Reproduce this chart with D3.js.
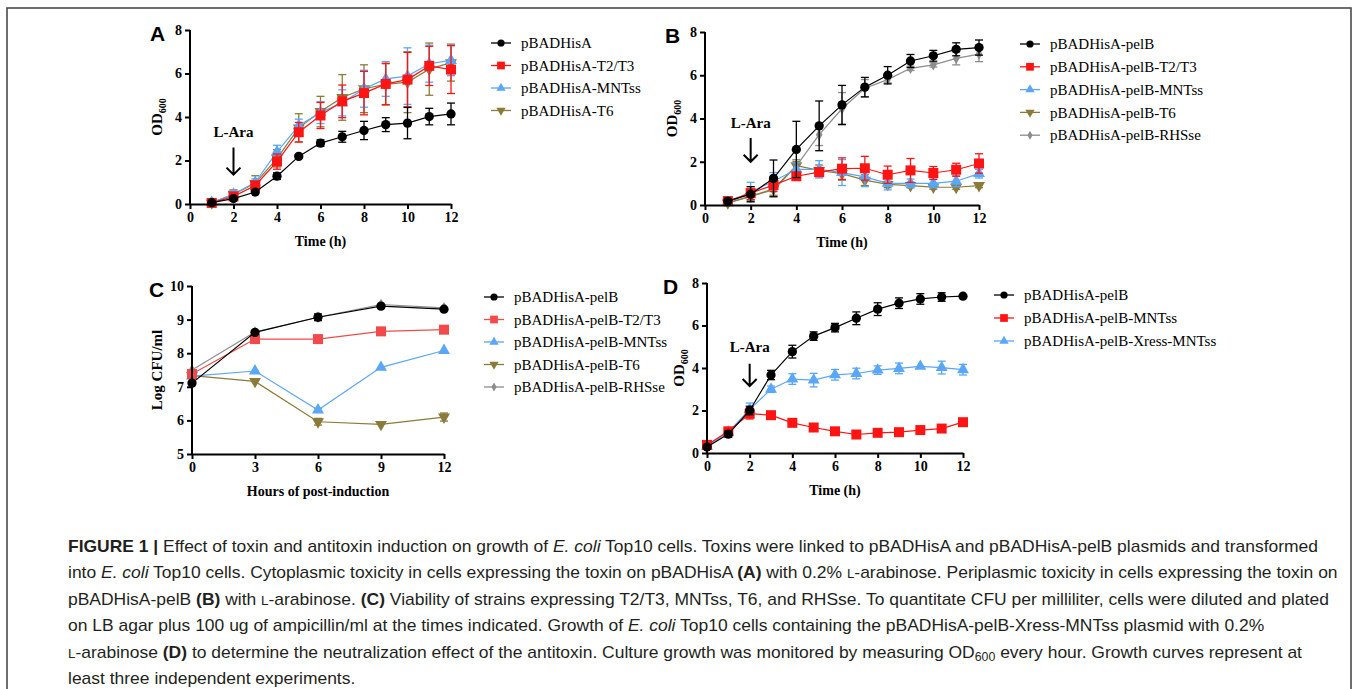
<!DOCTYPE html>
<html>
<head>
<meta charset="utf-8">
<script src="https://d3js.org/d3.v7.min.js"></script>
<style>
  body { margin: 0; background: #fff; }
  .serif { font-family: "Liberation Serif", "Times New Roman", serif; }
  .cap { font-family: "Liberation Sans", Arial, sans-serif; }
</style>
</head>
<body>
<svg id="fig" width="1358" height="689"></svg>
<script>
// ---- data -------------------------------------------------------------
const hours1to12 = [1, 2, 3, 4, 5, 6, 7, 8, 9, 10, 11, 12];
const hours0to12 = [0, 1, 2, 3, 4, 5, 6, 7, 8, 9, 10, 11, 12];
const hoursC = [0, 3, 6, 9, 12];

// panel A: OD600, cytoplasmic
const aNames = ["pBADHisA", "pBADHisA-T2/T3", "pBADHisA-MNTss", "pBADHisA-T6"];
const aCtrl = [0.06, 0.25, 0.55, 1.28, 2.19, 2.80, 3.09, 3.38, 3.65, 3.72, 4.02, 4.14];
const aCtrlErr = [0.03, 0.05, 0.06, 0.15, 0.08, 0.15, 0.25, 0.42, 0.32, 0.72, 0.38, 0.5];
const aT2T3 = [0.05, 0.35, 0.85, 1.95, 3.30, 4.07, 4.72, 5.10, 5.52, 5.72, 6.35, 6.18];
const aT2T3Err = [0.03, 0.1, 0.2, 0.35, 0.45, 0.6, 0.75, 1.0, 0.95, 1.25, 0.9, 1.1];
const aMNT = [0.07, 0.45, 1.0, 2.4, 3.6, 4.2, 4.65, 5.3, 5.75, 5.88, 6.45, 6.6];
const aMNTErr = [0.04, 0.15, 0.15, 0.3, 0.3, 0.5, 0.6, 0.85, 0.8, 1.3, 0.85, 0.7];
const aT6 = [0.05, 0.45, 0.95, 2.1, 3.5, 4.25, 4.9, 5.3, 5.5, 5.6, 6.2, 6.5];
const aT6Err = [0.04, 0.2, 0.35, 0.4, 0.65, 0.7, 1.05, 1.1, 0.95, 1.4, 1.2, 0.85];

// panel B: OD600, periplasmic
const bNames = ["pBADHisA-pelB", "pBADHisA-pelB-T2/T3", "pBADHisA-pelB-MNTss", "pBADHisA-pelB-T6", "pBADHisA-pelB-RHSse"];
const bCtrl = [0.18, 0.5, 1.23, 2.57, 3.66, 4.63, 5.45, 6.0, 6.66, 6.9, 7.2, 7.28];
const bCtrlErr = [0.05, 0.35, 0.85, 1.3, 1.15, 0.9, 0.45, 0.4, 0.3, 0.25, 0.3, 0.35];
const bT2T3 = [0.18, 0.55, 0.92, 1.33, 1.52, 1.68, 1.7, 1.4, 1.6, 1.48, 1.63, 1.92];
const bT2T3Err = [0.05, 0.3, 0.3, 0.15, 0.2, 0.5, 0.55, 0.4, 0.55, 0.3, 0.3, 0.45];
const bMNT = [0.1, 0.6, 1.1, 1.65, 1.65, 1.5, 1.3, 1.0, 1.0, 1.0, 1.1, 1.45];
const bMNTErr = [0.05, 0.45, 0.4, 0.3, 0.4, 0.6, 0.45, 0.3, 0.2, 0.2, 0.25, 0.2];
const bT6 = [0.1, 0.4, 0.75, 1.82, 1.6, 1.45, 1.15, 0.95, 0.9, 0.83, 0.82, 0.9];
const bT6Err = [0.04, 0.15, 0.3, 0.2, 0.25, 0.3, 0.25, 0.15, 0.1, 0.1, 0.1, 0.1];
const bRHS = [0.1, 0.4, 0.7, 1.8, 3.25, 4.45, 5.4, 5.8, 6.32, 6.48, 6.78, 6.98];
const bRHSErr = [0.04, 0.2, 0.3, 0.3, 0.5, 0.75, 0.4, 0.15, 0.1, 0.1, 0.3, 0.35];

// panel C: log CFU/ml
const cNames = bNames;
const cCtrl = [7.11, 8.62, 9.07, 9.40, 9.31];
const cCtrlErr = [0.03, 0.03, 0.1, 0.05, 0.04];
const cT2T3 = [7.38, 8.42, 8.42, 8.65, 8.70];
const cT2T3Err = [0.05, 0.03, 0.03, 0.03, 0.03];
const cMNT = [7.32, 7.47, 6.31, 7.58, 8.08];
const cMNTErr = [0.03, 0.03, 0.05, 0.03, 0.03];
const cT6 = [7.33, 7.16, 5.96, 5.88, 6.10];
const cT6Err = [0.03, 0.03, 0.1, 0.03, 0.12];
const cRHS = [7.5, 8.63, 9.07, 9.45, 9.35];
const cRHSErr = [0.03, 0.03, 0.03, 0.03, 0.03];

// panel D: OD600, antitoxin rescue
const dNames = ["pBADHisA-pelB", "pBADHisA-pelB-MNTss", "pBADHisA-pelB-Xress-MNTss"];
const dCtrl = [0.28, 0.89, 2.0, 3.67, 4.77, 5.5, 5.9, 6.34, 6.77, 7.05, 7.25, 7.34, 7.38];
const dCtrlErr = [0.08, 0.15, 0.2, 0.22, 0.3, 0.2, 0.2, 0.3, 0.3, 0.25, 0.25, 0.2, 0.05];
const dMNT = [0.38, 1.02, 1.85, 1.78, 1.42, 1.2, 1.02, 0.87, 0.95, 0.98, 1.08, 1.15, 1.45];
const dMNTErr = [0.05, 0.15, 0.25, 0.05, 0.05, 0.05, 0.05, 0.05, 0.05, 0.05, 0.05, 0.05, 0.05];
const dXress = [0.32, 0.98, 2.05, 3.0, 3.48, 3.43, 3.68, 3.74, 3.9, 3.98, 4.08, 4.02, 3.92];
const dXressErr = [0.05, 0.15, 0.3, 0.15, 0.25, 0.32, 0.25, 0.25, 0.2, 0.25, 0.05, 0.3, 0.25];

// ticks
const odTicks = [0, 2, 4, 6, 8];
const timeTicks = [0, 2, 4, 6, 8, 10, 12];
const cfuTicks = [5, 6, 7, 8, 9, 10];
const hourTicksC = [0, 3, 6, 9, 12];

// ---- styles ------------------------------------------------------------
const RED = "#ff1414", RED_C = "#f24a4a", BLUE = "#5aa6f7", OLIVE = "#8b7b3a", GRAY = "#8c8c8c";
const styles = [
  {color: "#000", shape: "circle"},
  {color: RED, shape: "square"},
  {color: BLUE, shape: "tri"},
  {color: OLIVE, shape: "triDown"},
  {color: GRAY, shape: "diamond"}
];

const svg = d3.select("#fig");

// outer frame of the figure
svg.append("rect").attr("x", 7).attr("y", 8).attr("width", 1344).attr("height", 720)
  .attr("fill", "none").attr("stroke", "#4a4a4a").attr("stroke-width", 1.6);

function markerPath(shape, k) {
  k = k || 1;
  if (shape == "circle") return d3.symbol(d3.symbolCircle, 68 * k)();
  if (shape == "square") return d3.symbol(d3.symbolSquare, 100 * k)();
  if (shape == "tri" || shape == "triDown") return d3.symbol(d3.symbolTriangle, 62 * k)();
  return d3.symbol(d3.symbolDiamond, 38 * k)();
}

function drawMarker(g, shape, color, cx, cy, k) {
  g.append("path")
    .attr("d", markerPath(shape, k))
    .attr("transform", "translate(" + cx + "," + cy + ")" + (shape == "triDown" ? " rotate(180)" : ""))
    .attr("fill", color);
}

function panel(p) {
  const g = svg.append("g");
  const x = d3.scaleLinear().domain(p.xDomain).range(p.xRange);
  const y = d3.scaleLinear().domain(p.yDomain).range(p.yRange);

  // series, first one on top
  for (let si = p.series.length - 1; si >= 0; si--) {
    const s = p.series[si];
    const st = Object.assign({}, styles[si], s.style || {});
    const pts = s.values.map((v, i) => ({x: p.xs[i], y: v, e: s.err[i]}));
    g.append("path").datum(pts)
      .attr("d", d3.line().x(d => x(d.x)).y(d => y(d.y)))
      .attr("fill", "none").attr("stroke", st.color).attr("stroke-width", 1.2);
    const eb = g.append("g").attr("stroke", st.color).attr("stroke-width", 1.3);
    pts.forEach(d => {
      const cx = x(d.x), y1 = y(d.y - d.e), y2 = y(d.y + d.e);
      if (y1 - y2 < 3) return;
      eb.append("line").attr("x1", cx).attr("x2", cx).attr("y1", y1).attr("y2", y2);
      eb.append("line").attr("x1", cx - 4).attr("x2", cx + 4).attr("y1", y1).attr("y2", y1);
      eb.append("line").attr("x1", cx - 4).attr("x2", cx + 4).attr("y1", y2).attr("y2", y2);
    });
    pts.forEach(d => drawMarker(g, st.shape, st.color, x(d.x), y(d.y)));
  }

  // axes
  const xa = g.append("g").attr("transform", "translate(0," + p.yRange[0] + ")")
    .call(d3.axisBottom(x).tickValues(p.xTicks).tickFormat(d3.format("d")).tickSize(5).tickSizeOuter(0).tickPadding(3));
  const ya = g.append("g").attr("transform", "translate(" + p.xRange[0] + ",0)")
    .call(d3.axisLeft(y).tickValues(p.yTicks).tickFormat(d3.format("d")).tickSize(5).tickSizeOuter(0).tickPadding(3));
  [xa, ya].forEach(a => {
    a.selectAll("path, line").attr("stroke", "#000").attr("stroke-width", 2);
    a.selectAll("text").attr("class", "serif").attr("font-family", null)
      .attr("font-size", 14).attr("font-weight", "bold").attr("fill", "#000");
  });
  ya.select(".domain").attr("d", "M0," + (p.yRange[0] + 1) + "V" + p.yRange[1]);

  // axis titles
  g.append("text").attr("class", "serif").attr("font-weight", "bold").attr("font-size", 14)
    .attr("x", (p.xRange[0] + p.xRange[1]) / 2).attr("y", p.yRange[0] + 42)
    .attr("text-anchor", "middle").text(p.xTitle);
  const yt = g.append("text").attr("class", "serif").attr("font-weight", "bold").attr("font-size", 15)
    .attr("text-anchor", "middle")
    .attr("transform", "translate(" + p.yTitleX + "," + (p.yRange[0] + p.yRange[1]) / 2 + ") rotate(-90)");
  if (p.yTitle == "OD600") {
    yt.append("tspan").text("OD");
    yt.append("tspan").attr("font-size", 10).attr("dy", 4).text("600");
  } else {
    yt.text(p.yTitle);
  }

  // panel letter
  g.append("text").attr("class", "cap").attr("font-weight", "bold").attr("font-size", 21)
    .attr("x", p.letterX).attr("y", p.yRange[1] + 11).text(p.letter);

  // L-Ara arrow
  if (p.arrow) {
    const ax = x(p.arrow.x), top = y(p.arrow.top), tip = y(p.arrow.tip);
    g.append("text").attr("class", "serif").attr("font-weight", "bold").attr("font-size", 15)
      .attr("x", ax).attr("y", y(p.arrow.label)).attr("dy", "0.35em")
      .attr("text-anchor", "middle").text("L-Ara");
    g.append("path")
      .attr("d", "M" + ax + "," + top + "V" + tip + "M" + (ax - 7) + "," + (tip - 7) + "L" + ax + "," + tip + "L" + (ax + 7) + "," + (tip - 7))
      .attr("fill", "none").attr("stroke", "#000").attr("stroke-width", 2);
  }

  // legend
  const lg = svg.append("g");
  p.series.forEach((s, i) => {
    const st = Object.assign({}, styles[i], s.style || {});
    const ly = p.legend.y + i * p.legend.dy;
    lg.append("line").attr("x1", p.legend.x).attr("x2", p.legend.x + 20).attr("y1", ly).attr("y2", ly)
      .attr("stroke", st.color).attr("stroke-width", 1.3);
    drawMarker(lg, st.shape, st.color, p.legend.x + 10, ly, 0.6);
    lg.append("text").attr("class", "serif").attr("font-size", 15)
      .attr("x", p.legend.x + 30).attr("y", ly).attr("dy", "0.35em").text(p.names[i]);
  });
}

panel({
  letter: "A", letterX: 150, xs: hours1to12, names: aNames,
  xDomain: [0, 12], xRange: [190, 451], yDomain: [0, 8], yRange: [204, 30],
  xTicks: timeTicks, yTicks: odTicks, xTitle: "Time (h)", yTitle: "OD600", yTitleX: 162,
  arrow: {x: 2, label: 3.3, top: 2.6, tip: 1.35},
  legend: {x: 491, y: 43, dy: 22.5},
  series: [
    {values: aCtrl, err: aCtrlErr},
    {values: aT2T3, err: aT2T3Err},
    {values: aMNT, err: aMNTErr},
    {values: aT6, err: aT6Err}
  ]
});

panel({
  letter: "B", letterX: 665, xs: hours1to12, names: bNames,
  xDomain: [0, 12], xRange: [705, 979], yDomain: [0, 8], yRange: [205, 32],
  xTicks: timeTicks, yTicks: odTicks, xTitle: "Time (h)", yTitle: "OD600", yTitleX: 677,
  arrow: {x: 2, label: 3.8, top: 3.1, tip: 2.0},
  legend: {x: 1020, y: 44, dy: 22.8},
  series: [
    {values: bCtrl, err: bCtrlErr},
    {values: bT2T3, err: bT2T3Err},
    {values: bMNT, err: bMNTErr},
    {values: bT6, err: bT6Err},
    {values: bRHS, err: bRHSErr}
  ]
});

panel({
  letter: "C", letterX: 149, xs: hoursC, names: cNames,
  xDomain: [0, 12], xRange: [192, 444], yDomain: [5, 10], yRange: [454, 286],
  xTicks: hourTicksC, yTicks: cfuTicks, xTitle: "Hours of post-induction", yTitle: "Log CFU/ml", yTitleX: 162,
  legend: {x: 484, y: 297, dy: 22.5},
  series: [
    {values: cCtrl, err: cCtrlErr},
    {values: cT2T3, err: cT2T3Err, style: {color: RED_C}},
    {values: cMNT, err: cMNTErr},
    {values: cT6, err: cT6Err},
    {values: cRHS, err: cRHSErr}
  ]
});

panel({
  letter: "D", letterX: 663, xs: hours0to12, names: dNames,
  xDomain: [0, 12], xRange: [707, 963], yDomain: [0, 8], yRange: [453, 283],
  xTicks: timeTicks, yTicks: odTicks, xTitle: "Time (h)", yTitle: "OD600", yTitleX: 684,
  arrow: {x: 2, label: 5.0, top: 4.2, tip: 3.15},
  legend: {x: 994, y: 295, dy: 23},
  series: [
    {values: dCtrl, err: dCtrlErr},
    {values: dMNT, err: dMNTErr},
    {values: dXress, err: dXressErr}
  ]
});

// ---- caption -------------------------------------------------------------
const captionLines = [
  [["FIGURE 1 | ", "b"], ["Effect of toxin and antitoxin induction on growth of ", ""], ["E. coli", "i"], [" Top10 cells. Toxins were linked to pBADHisA and pBADHisA-pelB plasmids and transformed", ""]],
  [["into ", ""], ["E. coli", "i"], [" Top10 cells. Cytoplasmic toxicity in cells expressing the toxin on pBADHisA ", ""], ["(A)", "b"], [" with 0.2% ", ""], ["L", "sc"], ["-arabinose. Periplasmic toxicity in cells expressing the toxin on", ""]],
  [["pBADHisA-pelB ", ""], ["(B)", "b"], [" with ", ""], ["L", "sc"], ["-arabinose. ", ""], ["(C)", "b"], [" Viability of strains expressing T2/T3, MNTss, T6, and RHSse. To quantitate CFU per milliliter, cells were diluted and plated", ""]],
  [["on LB agar plus 100 ug of ampicillin/ml at the times indicated. Growth of ", ""], ["E. coli", "i"], [" Top10 cells containing the pBADHisA-pelB-Xress-MNTss plasmid with 0.2%", ""]],
  [["L", "sc"], ["-arabinose ", ""], ["(D)", "b"], [" to determine the neutralization effect of the antitoxin. Culture growth was monitored by measuring OD", ""], ["600", "sub"], [" every hour. Growth curves represent at", ""]],
  [["least three independent experiments.", ""]]
];
const capX = 68, capY = 552, capDY = 26.4, capRight = 1318;
const capG = svg.append("g").attr("class", "cap").attr("font-size", 17).attr("fill", "#231f20");
const capTexts = captionLines.map((segs, li) => {
  const t = capG.append("text").attr("x", capX).attr("y", capY + li * capDY);
  segs.forEach(([s, f]) => {
    const ts = t.append("tspan").text(s);
    if (f == "b") ts.attr("font-weight", "bold");
    if (f == "i") ts.attr("font-style", "italic");
    if (f == "sc") ts.attr("font-size", 13);
    if (f == "sub") ts.attr("font-size", 12).attr("baseline-shift", "-25%");
  });
  return t;
});
// squeeze to the condensed face used in the reference
const squeeze = (capRight - capX) / capTexts[0].node().getComputedTextLength();
capTexts.forEach(t => {
  t.attr("textLength", t.node().getComputedTextLength() * squeeze).attr("lengthAdjust", "spacingAndGlyphs");
});
</script>
</body>
</html>
